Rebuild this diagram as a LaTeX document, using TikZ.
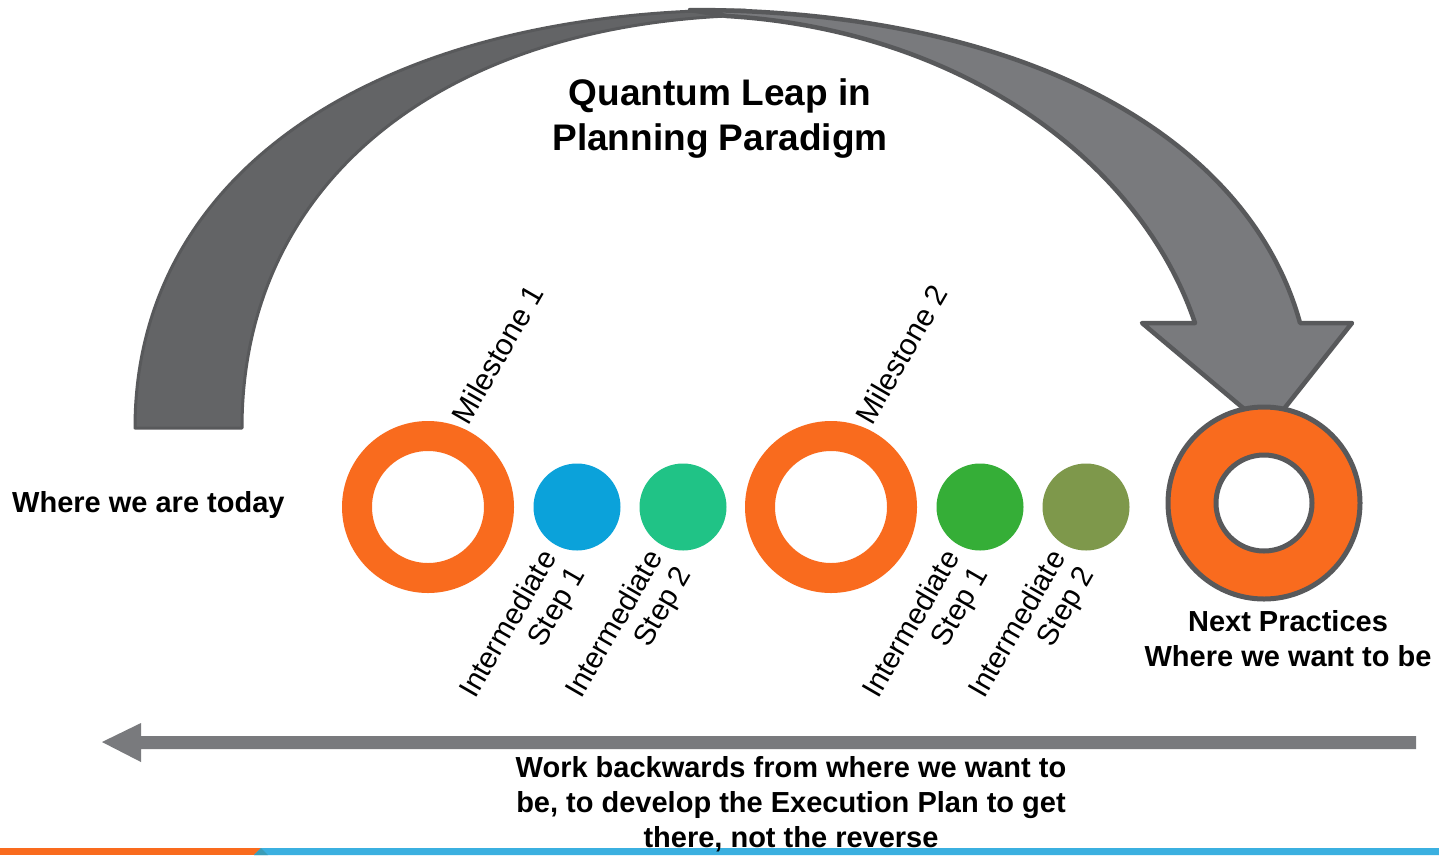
\documentclass[tikz,border=0pt]{standalone}
\usepackage{fontspec}
\setmainfont{Liberation Sans}
\definecolor{darkarc}{HTML}{636466}
\definecolor{arcedge}{HTML}{58595B}
\definecolor{lightarc}{HTML}{797A7D}
\definecolor{ringorange}{HTML}{F96B1E}
\definecolor{stepblue}{HTML}{0BA2DA}
\definecolor{stepteal}{HTML}{20C386}
\definecolor{stepgreen}{HTML}{35AE37}
\definecolor{stepolive}{HTML}{7E984B}
\definecolor{stripblue}{HTML}{3BB0E0}
\definecolor{stripteal}{HTML}{3A9DB8}
\begin{document}
\begin{tikzpicture}[x=1pt,y=-1pt,
  ringnode/.style={circle,draw=ringorange,line width=30pt,minimum size=142pt,inner sep=0pt},
  dotnode/.style={circle,fill=#1,minimum size=87pt,inner sep=0pt},
  steplabel/.style={rotate=60,anchor=east,align=right,inner sep=0pt,
     font=\fontsize{29.5}{33}\selectfont},
  milelabel/.style={rotate=60,anchor=west,inner sep=0pt,font=\fontsize{30}{33}\selectfont},
  boldtext/.style={align=center,inner sep=0pt,font=\bfseries\fontsize{#1}{#1}\selectfont},
]
\useasboundingbox (0,0) rectangle (1439,855);
\fill[white] (0,0) rectangle (1439,855);

% left dark arc
\filldraw[fill=darkarc,draw=arcedge,line width=3pt,line join=round]
  (135,428) .. controls (135,170) and (380,10) .. (745,10)
  -- (727,16) .. controls (430,30) and (242,190) .. (242,428) -- cycle;

% right curved arrow
\filldraw[fill=lightarc,draw=arcedge,line width=4.5pt,line join=round]
  (690,10) .. controls (1030,10) and (1250,140) .. (1300,323)
  -- (1352,323) -- (1268,429) -- (1142,323) -- (1195,323)
  .. controls (1140,160) and (960,30) .. (727,16) -- cycle;

% milestones and steps
\node[ringnode] (m1) at (428,507) {};
\node[dotnode=stepblue] (s11) at (577,507) {};
\node[dotnode=stepteal] (s12) at (683,507) {};
\node[ringnode] (m2) at (831,507) {};
\node[dotnode=stepgreen] (s21) at (980,507) {};
\node[dotnode=stepolive] (s22) at (1086,507) {};

% goal ring
\node[circle,fill=ringorange,draw=arcedge,line width=5pt,minimum size=192pt,inner sep=0pt] (goal) at (1264,503) {};
\node[circle,fill=white,draw=arcedge,line width=5pt,minimum size=96pt,inner sep=0pt] (goalin) at (goal.center) {};

% labels
\node[milelabel] (lm1) at (459,421) {Milestone 1};
\node[milelabel] (lm2) at (863,421) {Milestone 2};
\node[steplabel] (l11) at (565,562) {Intermediate\\Step 1};
\node[steplabel] (l12) at (671,562) {Intermediate\\Step 2};
\node[steplabel] (l21) at (968,562) {Intermediate\\Step 1};
\node[steplabel] (l22) at (1074,562) {Intermediate\\Step 2};

\node[boldtext=37,font=\bfseries\fontsize{37}{45}\selectfont] (title) at (720,119) {Quantum Leap in\\Planning Paradigm};
\node[boldtext=29,anchor=west] (today) at (12,505) {Where we are today};
\node[boldtext=29,font=\bfseries\fontsize{29}{35}\selectfont] (next) at (1288,639) {Next Practices\\Where we want to be};

% backward arrow
\coordinate (bstart) at (1416,742);
\coordinate (btip) at (102,742);
\fill[lightarc] (1416,736) -- (141,736) -- (141,723) -- (btip) -- (141,762) -- (141,749) -- (1416,749) -- cycle;

% bottom strip
\fill[ringorange] (0,848) rectangle (262,855);
\fill[stripblue] (254,855) -- (261,848) -- (1439,848) -- (1439,855) -- cycle;
\fill[stripteal] (254,855) -- (261,848) -- (268,855) -- cycle;

\node[boldtext=29,font=\bfseries\fontsize{29}{35}\selectfont] (work) at (791,804) {Work backwards from where we want to\\be, to develop the Execution Plan to get\\there, not the reverse};
\end{tikzpicture}
\end{document}
